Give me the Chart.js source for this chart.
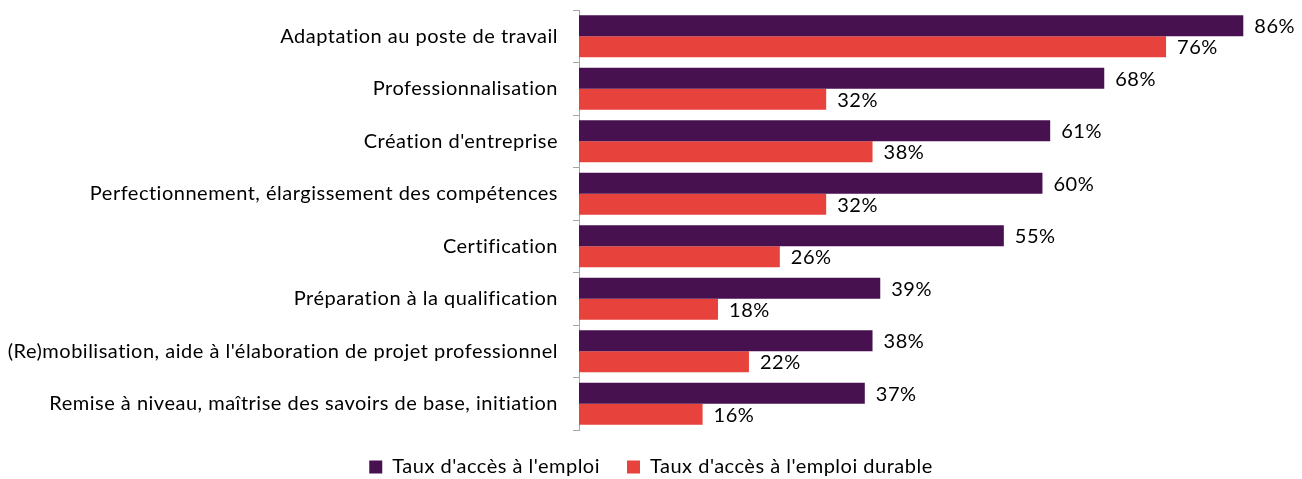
<!DOCTYPE html>
<html>
<head>
<meta charset="utf-8">
<script src="https://cdn.jsdelivr.net/npm/chart.js@4.4.0/dist/chart.umd.min.js"></script>
<style>
  html, body { margin: 0; padding: 0; background: #fff; }
  #wrap { width: 1302px; height: 479px; }
</style>
</head>
<body>
<div id="wrap"><canvas id="barChart"></canvas></div>
<script>
const categories = [
  'Adaptation au poste de travail',
  'Professionnalisation',
  "Création d'entreprise",
  'Perfectionnement, élargissement des compétences',
  'Certification',
  'Préparation à la qualification',
  "(Re)mobilisation, aide à l'élaboration de projet professionnel",
  'Remise à niveau, maîtrise des savoirs de base, initiation'
];
const tauxEmploi = [86, 68, 61, 60, 55, 39, 38, 37];
const tauxEmploiDurable = [76, 32, 38, 32, 26, 18, 22, 16];
const seriesNames = ["Taux d'accès à l'emploi", "Taux d'accès à l'emploi durable"];

const FONT = 'Lato, "Open Sans", sans-serif';

// espacement des lettres un peu plus large (rendu type Calibri)
const spacing = {
  id: 'spacing',
  beforeUpdate(chart) { chart.ctx.letterSpacing = '0.5px'; },
  beforeDraw(chart) { chart.ctx.letterSpacing = '0.5px'; }
};

// légende moins haute que ce que Chart.js calcule
const legendHeight = {
  id: 'legendHeight',
  beforeLayout(chart) {
    const lg = chart.legend;
    if (lg && !lg._hPatched) {
      const fit = lg.fit.bind(lg);
      lg.fit = function () { fit(); this.height = 49; };
      lg._hPatched = true;
    }
  }
};

// valeurs en bout de barre
const valueLabels = {
  id: 'valueLabels',
  afterDatasetsDraw(chart) {
    const ctx = chart.ctx;
    ctx.save();
    ctx.font = '20px ' + FONT;
    ctx.fillStyle = '#000';
    ctx.textAlign = 'left';
    ctx.textBaseline = 'middle';
    chart.data.datasets.forEach((ds, i) => {
      chart.getDatasetMeta(i).data.forEach((bar, j) => {
        ctx.fillText(ds.data[j] + '%', bar.x + 11, bar.y + 1);
      });
    });
    ctx.restore();
  }
};

function initChart() {
  const ctx = document.getElementById('barChart');
  new Chart(ctx, {
    type: 'bar',
    data: {
      labels: categories,
      datasets: [{
        label: seriesNames[0],
        data: tauxEmploi,
        backgroundColor: '#47104F',
        borderWidth: 0,
        categoryPercentage: 0.8,
        barPercentage: 1
      }, {
        label: seriesNames[1],
        data: tauxEmploiDurable,
        backgroundColor: '#E8423C',
        borderWidth: 0,
        categoryPercentage: 0.8,
        barPercentage: 1
      }]
    },
    options: {
      indexAxis: 'y',
      responsive: true,
      maintainAspectRatio: false,
      animation: false,
      layout: {
        padding: { top: 10, right: 0, left: 0, bottom: 0 }
      },
      plugins: {
        legend: {
          position: 'bottom',
          labels: {
            boxWidth: 13,
            boxHeight: 13,
            padding: 27,
            color: '#000',
            font: { family: FONT, size: 20 }
          }
        },
        tooltip: { enabled: false }
      },
      scales: {
        x: {
          display: false,
          min: 0,
          max: 93.6
        },
        y: {
          afterFit(scale) {
            scale.width = 579;
            scale.paddingTop = 0;
            scale.paddingBottom = 0;
          },
          grid: {
            offset: true,
            drawOnChartArea: false,
            tickLength: 6,
            color: '#A6A6A6'
          },
          border: { color: '#A6A6A6' },
          ticks: {
            padding: 15,
            color: '#000',
            font: { family: FONT, size: 20 }
          }
        }
      }
    },
    plugins: [spacing, legendHeight, valueLabels]
  });
}

document.addEventListener('DOMContentLoaded', initChart);
</script>
</body>
</html>
